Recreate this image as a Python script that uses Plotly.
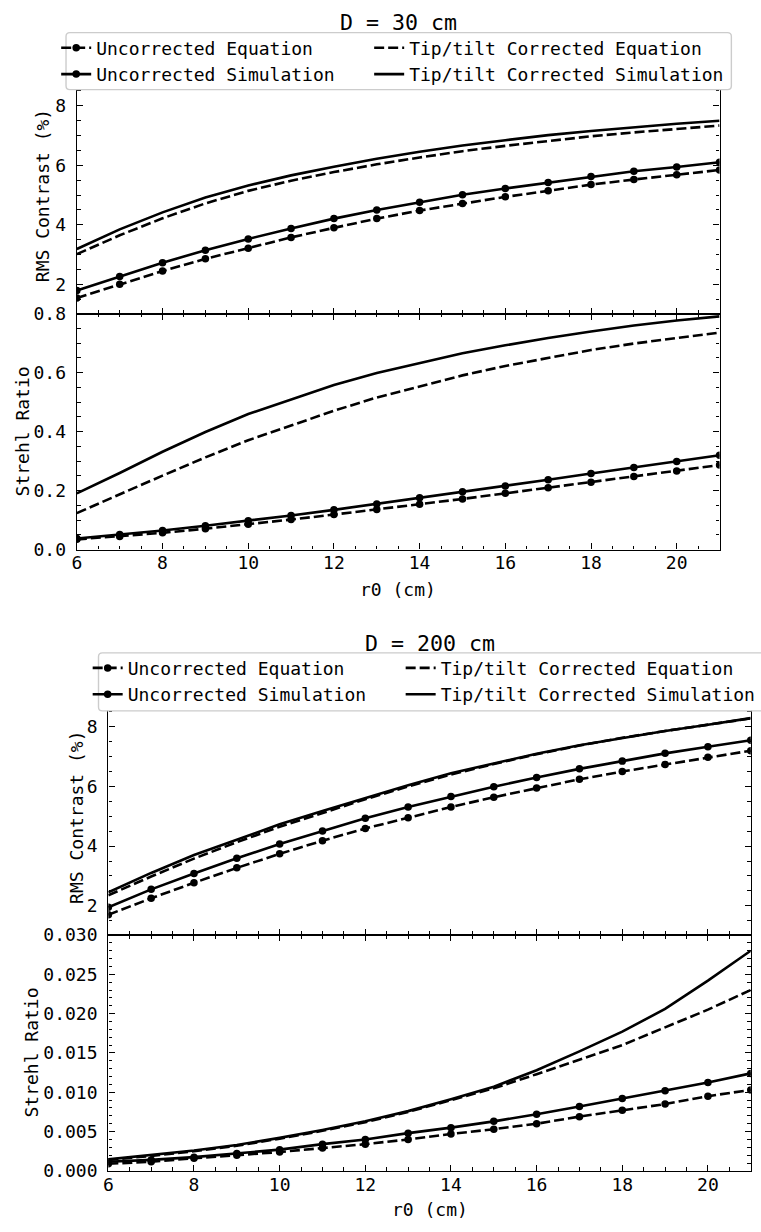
import plotly.graph_objects as go

# ---------------------------------------------------------------- data
r0 = [6, 7, 8, 9, 10, 11, 12, 13, 14, 15, 16, 17, 18, 19, 20, 21]

# D = 30 cm
rms30_unc_eq = [1.55, 2.01, 2.45, 2.86, 3.22, 3.58, 3.90, 4.21, 4.48, 4.72, 4.94, 5.14, 5.35, 5.52, 5.68, 5.84]
rms30_unc_sim = [1.80, 2.27, 2.73, 3.15, 3.53, 3.88, 4.21, 4.50, 4.76, 5.01, 5.22, 5.42, 5.62, 5.80, 5.94, 6.10]
rms30_tt_eq = [3.02, 3.65, 4.22, 4.72, 5.14, 5.48, 5.77, 6.03, 6.26, 6.47, 6.65, 6.82, 6.97, 7.10, 7.22, 7.33]
rms30_tt_sim = [3.19, 3.85, 4.42, 4.92, 5.32, 5.66, 5.95, 6.22, 6.45, 6.66, 6.84, 7.01, 7.15, 7.28, 7.39, 7.49]

sr30_unc_eq = [0.035, 0.045, 0.057, 0.071, 0.086, 0.102, 0.119, 0.136, 0.154, 0.172, 0.191, 0.210, 0.229, 0.248, 0.267, 0.287]
sr30_unc_sim = [0.038, 0.051, 0.065, 0.081, 0.098, 0.116, 0.135, 0.155, 0.176, 0.196, 0.216, 0.237, 0.258, 0.279, 0.299, 0.320]
sr30_tt_eq = [0.124, 0.188, 0.251, 0.313, 0.371, 0.421, 0.471, 0.516, 0.554, 0.591, 0.623, 0.651, 0.677, 0.699, 0.718, 0.736]
sr30_tt_sim = [0.191, 0.260, 0.332, 0.399, 0.460, 0.510, 0.558, 0.599, 0.632, 0.666, 0.693, 0.718, 0.740, 0.760, 0.777, 0.791]

# D = 200 cm
rms200_unc_eq = [1.70, 2.25, 2.77, 3.27, 3.74, 4.18, 4.59, 4.95, 5.31, 5.64, 5.95, 6.24, 6.50, 6.74, 6.98, 7.20]
rms200_unc_sim = [1.95, 2.55, 3.08, 3.59, 4.07, 4.51, 4.93, 5.31, 5.66, 5.99, 6.30, 6.59, 6.85, 7.11, 7.33, 7.55]
rms200_tt_eq = [2.35, 2.98, 3.58, 4.13, 4.65, 5.12, 5.57, 6.00, 6.40, 6.75, 7.08, 7.37, 7.63, 7.86, 8.07, 8.28]
rms200_tt_sim = [2.45, 3.10, 3.70, 4.22, 4.73, 5.18, 5.62, 6.04, 6.44, 6.77, 7.10, 7.38, 7.63, 7.86, 8.07, 8.29]

sr200_unc_eq = [0.0009, 0.00117, 0.0016, 0.0020, 0.0024, 0.0029, 0.0034, 0.0040, 0.0047, 0.0053, 0.0060, 0.0069, 0.0077, 0.0085, 0.0095, 0.0103]
sr200_unc_sim = [0.00117, 0.0014, 0.00175, 0.0022, 0.0027, 0.0034, 0.0040, 0.0048, 0.0055, 0.0063, 0.0072, 0.0082, 0.0092, 0.0102, 0.01125, 0.0124]
sr200_tt_eq = [0.0014, 0.0019, 0.0025, 0.0032, 0.0041, 0.0051, 0.0062, 0.0075, 0.0090, 0.0105, 0.0123, 0.0142, 0.0160, 0.01825, 0.0205, 0.0230]
sr200_tt_sim = [0.00146, 0.0020, 0.0026, 0.0033, 0.0042, 0.0052, 0.0063, 0.0076, 0.0091, 0.0107, 0.0128, 0.0152, 0.0177, 0.0206, 0.0242, 0.0280]

series_names = ["Uncorrected Equation", "Uncorrected Simulation",
                "Tip/tilt Corrected Equation", "Tip/tilt Corrected Simulation"]
titles = ["D = 30 cm", "D = 200 cm"]
x_title = "r0 (cm)"
y_titles = ["RMS Contrast (%)", "Strehl Ratio"]

# ---------------------------------------------------------------- layout helpers
W, H = 761, 1232
FONT = "DejaVu Sans Mono"
FS = 18
LW = 2.6
DASH = "10px,4px"


def fx(p):
    return p / W


def fy(p):
    return 1 - p / H


# pixel geometry of the two stacked figures
panels = [
    dict(xl=73, xr=726, yt=68, ym=308, yb=548, sr_range=[0, 0.8], sr_major=0.2, sr_minor=0.05, sr_fmt=".1f",
         rms_lab_x=38, sr_lab_x=18, title_y=12, xlab_y=589, box=(62, 738, 22, 80), leg_x=(52, 370), leg_y=18.8),
    dict(xl=105, xr=757.7, yt=700, ym=940, yb=1180, sr_range=[0, 0.03], sr_major=0.005, sr_minor=0.001, sr_fmt=".3f",
         rms_lab_x=72, sr_lab_x=27, title_y=643, xlab_y=1219, box=(95, 775, 653, 712), leg_x=(84, 402), leg_y=649.8),
]

data_sets = [
    (rms30_unc_eq, rms30_unc_sim, rms30_tt_eq, rms30_tt_sim,
     sr30_unc_eq, sr30_unc_sim, sr30_tt_eq, sr30_tt_sim),
    (rms200_unc_eq, rms200_unc_sim, rms200_tt_eq, rms200_tt_sim,
     sr200_unc_eq, sr200_unc_sim, sr200_tt_eq, sr200_tt_sim),
]

tick_font = dict(family=FONT, size=FS, color="black")


def axis_style(**kw):
    d = dict(showline=True, linecolor="black", linewidth=1.4, mirror="allticks",
             ticks="inside", ticklen=6, tickwidth=1.4, tickcolor="black",
             showgrid=False, zeroline=False, tickfont=tick_font)
    d.update(kw)
    return d


def minor(dt):
    return dict(ticks="inside", ticklen=3.5, tickwidth=1.2, tickcolor="black", dtick=dt, showgrid=False)


fig = go.Figure()
layout = dict(width=W, height=H, margin=dict(l=0, r=0, t=0, b=0),
              paper_bgcolor="white", plot_bgcolor="white", showlegend=True)
annotations = []
shapes = []


def sfx(n):
    return "" if n == 1 else str(n)


for k, (p, ds) in enumerate(zip(panels, data_sets)):
    ax_rms = 2 * k + 1
    ax_sr = 2 * k + 2
    xdom = [fx(p["xl"]), fx(p["xr"])]

    layout["xaxis" + sfx(ax_rms)] = axis_style(domain=xdom, range=[6, 21], dtick=2, tick0=0,
                                              showticklabels=False, anchor="y" + sfx(ax_rms),
                                              minor=minor(0.5))
    layout["yaxis" + sfx(ax_rms)] = axis_style(domain=[fy(p["ym"]), fy(p["yt"])], range=[1.02, 8.93],
                                              dtick=2, tick0=0, tickformat="d", ticklabelstandoff=6,
                                              anchor="x" + sfx(ax_rms), minor=minor(0.5))
    layout["xaxis" + sfx(ax_sr)] = axis_style(domain=xdom, range=[6, 21], dtick=2, tick0=0,
                                             ticklabelstandoff=-3,
                                             anchor="y" + sfx(ax_sr), minor=minor(0.5))
    layout["yaxis" + sfx(ax_sr)] = axis_style(domain=[fy(p["yb"]), fy(p["ym"])], range=p["sr_range"],
                                             dtick=p["sr_major"], tick0=0, tickformat=p["sr_fmt"],
                                             ticklabelstandoff=6, anchor="x" + sfx(ax_sr),
                                             minor=minor(p["sr_minor"]))

    leg_left = "legend" + ("" if k == 0 else str(2 * k + 1))
    leg_right = "legend" + str(2 * k + 2)
    for name_leg, lx in ((leg_left, p["leg_x"][0]), (leg_right, p["leg_x"][1])):
        layout[name_leg] = dict(x=fx(lx), y=fy(p["leg_y"]), xanchor="left", yanchor="top",
                                bgcolor="rgba(0,0,0,0)", borderwidth=0, itemwidth=30,
                                font=dict(family=FONT, size=FS, color="black"), orientation="v")

    rms_ue, rms_us, rms_te, rms_ts, sr_ue, sr_us, sr_te, sr_ts = ds
    styles = [
        (series_names[0], dict(mode="lines+markers", line=dict(color="black", width=LW, dash=DASH)), leg_left),
        (series_names[1], dict(mode="lines+markers", line=dict(color="black", width=LW)), leg_left),
        (series_names[2], dict(mode="lines", line=dict(color="black", width=LW, dash=DASH)), leg_right),
        (series_names[3], dict(mode="lines", line=dict(color="black", width=LW)), leg_right),
    ]
    for (name, st, leg), yv in zip(styles, [rms_ue, rms_us, rms_te, rms_ts]):
        fig.add_trace(go.Scatter(x=r0, y=yv, name=name, legend=leg, showlegend=True,
                                 marker=dict(size=7.5, color="black"),
                                 xaxis="x" + sfx(ax_rms), yaxis="y" + sfx(ax_rms), **st))
    for (name, st, leg), yv in zip(styles, [sr_ue, sr_us, sr_te, sr_ts]):
        fig.add_trace(go.Scatter(x=r0, y=yv, name=name, showlegend=False,
                                 marker=dict(size=7.5, color="black"),
                                 xaxis="x" + sfx(ax_sr), yaxis="y" + sfx(ax_sr), **st))

    # legend frame (rounded, light grey)
    x0, x1, y0, y1 = p["box"]
    r = 4
    path = (f"M {fx(x0 + r)} {fy(y0)} L {fx(x1 - r)} {fy(y0)} Q {fx(x1)} {fy(y0)} {fx(x1)} {fy(y0 + r)} "
            f"L {fx(x1)} {fy(y1 - r)} Q {fx(x1)} {fy(y1)} {fx(x1 - r)} {fy(y1)} "
            f"L {fx(x0 + r)} {fy(y1)} Q {fx(x0)} {fy(y1)} {fx(x0)} {fy(y1 - r)} "
            f"L {fx(x0)} {fy(y0 + r)} Q {fx(x0)} {fy(y0)} {fx(x0 + r)} {fy(y0)} Z")
    shapes.append(dict(type="path", path=path, xref="paper", yref="paper", layer="above",
                       fillcolor="white", line=dict(color="#cccccc", width=1.4)))

    xc = fx((p["xl"] + p["xr"]) / 2)
    annotations += [
        dict(text=titles[k], x=xc, y=fy(p["title_y"]), xref="paper", yref="paper",
             showarrow=False, xanchor="center", yanchor="middle",
             font=dict(family=FONT, size=21.6, color="black")),
        dict(text=x_title, x=xc, y=fy(p["xlab_y"]), xref="paper", yref="paper",
             showarrow=False, xanchor="center", yanchor="middle", font=tick_font),
        dict(text=y_titles[0], x=fx(p["rms_lab_x"]), y=fy((p["yt"] + p["ym"]) / 2), xref="paper", yref="paper",
             showarrow=False, xanchor="center", yanchor="middle", textangle=-90, font=tick_font),
        dict(text=y_titles[1], x=fx(p["sr_lab_x"]), y=fy((p["ym"] + p["yb"]) / 2), xref="paper", yref="paper",
             showarrow=False, xanchor="center", yanchor="middle", textangle=-90, font=tick_font),
    ]

layout["annotations"] = annotations
layout["shapes"] = shapes
fig.update_layout(**layout)
fig.write_html("out.html")
